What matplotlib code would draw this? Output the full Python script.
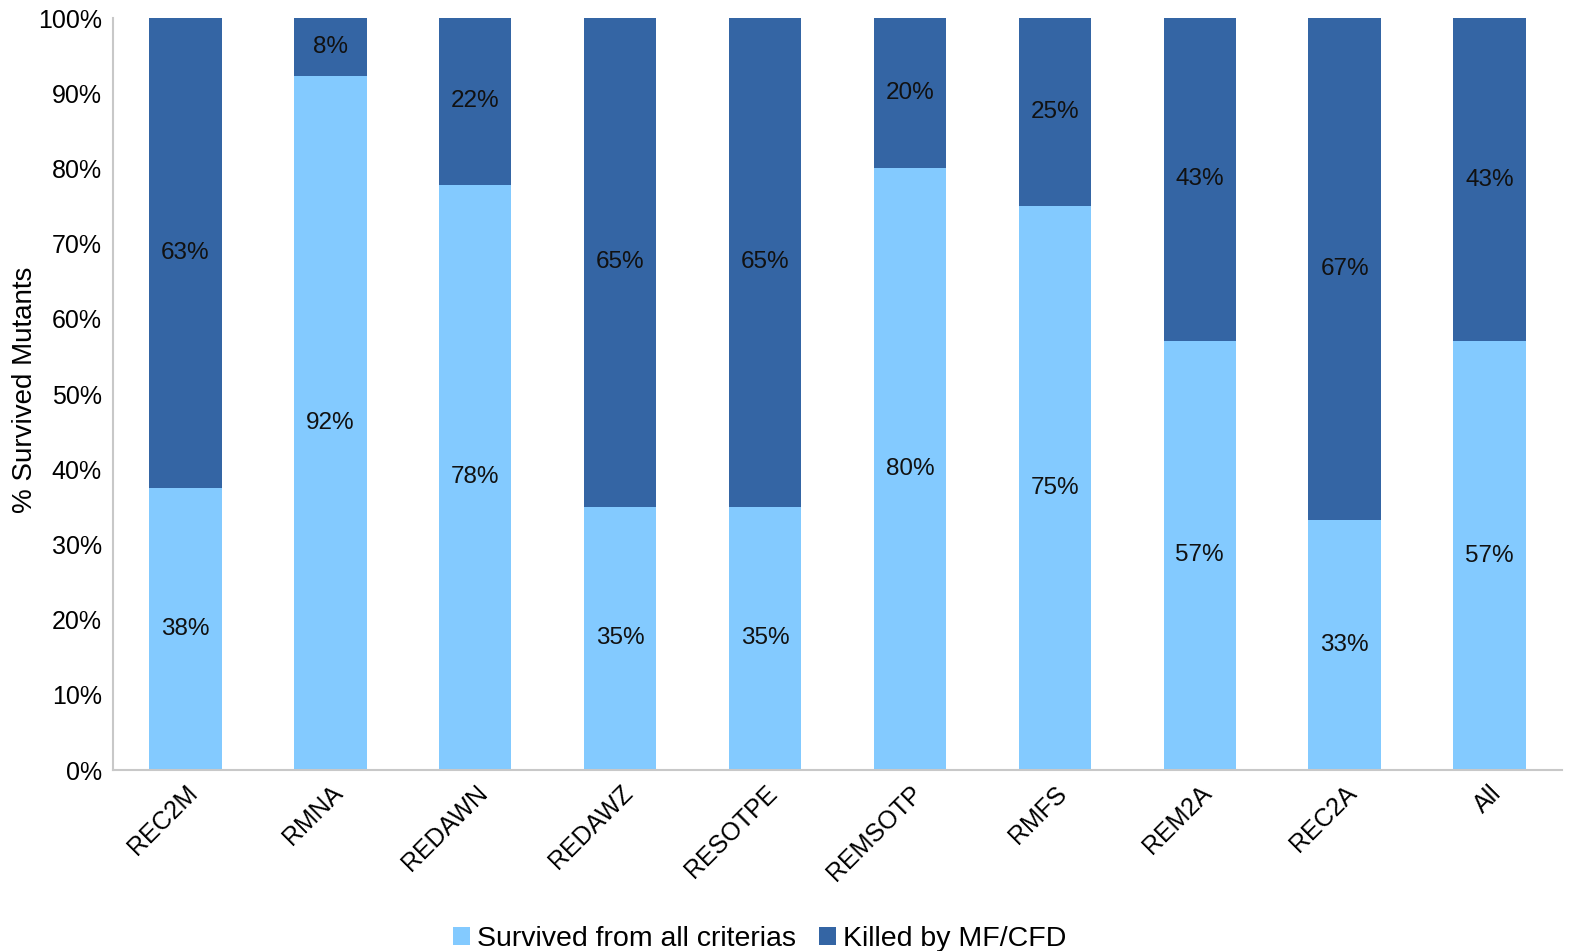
import matplotlib
matplotlib.use("Agg")
import matplotlib.pyplot as plt
import numpy as np

plt.rcParams["font.family"] = ["Liberation Sans", "DejaVu Sans"]

categories = ["REC2M", "RMNA", "REDAWN", "REDAWZ", "RESOTPE",
              "REMSOTP", "RMFS", "REM2A", "REC2A", "All"]
survived = [37.5, 92.3, 77.8, 35.0, 35.0, 80.0, 75.0, 57.1, 33.3, 57.0]
killed = [100 - s for s in survived]

light = "#83CAFF"
dark = "#3465A4"


def pct(v):
    # round half up, like a spreadsheet does
    return f"{int(v + 0.5)}%"


fig = plt.figure(figsize=(15.73, 9.51), dpi=100)
ax = fig.add_axes([113 / 1573, 1 - 770 / 951, (1562 - 113) / 1573, (770 - 18) / 951])

x = np.arange(len(categories))
b1 = ax.bar(x, survived, width=0.5, color=light, label="Survived from all criterias")
b2 = ax.bar(x, killed, width=0.5, bottom=survived, color=dark, label="Killed by MF/CFD")

for xi, s, k in zip(x, survived, killed):
    ax.text(xi, s / 2, pct(s), ha="center", va="center", fontsize=17.5, color="#111111")
    ax.text(xi, s + k / 2, pct(k), ha="center", va="center", fontsize=17.5, color="#111111")

ax.set_xlim(-0.5, len(categories) - 0.5)
ax.set_ylim(0, 100)
ax.set_yticks(np.arange(0, 101, 10))
ax.set_yticklabels([f"{v}%" for v in range(0, 101, 10)], fontsize=18)
ax.set_xticks(x)
ax.set_xticklabels(categories, rotation=45, ha="right", rotation_mode="anchor", fontsize=18)
ax.tick_params(length=0, pad=8)
ax.set_ylabel("% Survived Mutants", fontsize=20)
ax.yaxis.set_label_coords(-0.052, 0.505)

for side in ["top", "right"]:
    ax.spines[side].set_visible(False)
for side in ["left", "bottom"]:
    ax.spines[side].set_color("#c8c8c8")
    ax.spines[side].set_linewidth(1.5)

fig.legend(handles=[b1, b2], loc="lower center", bbox_to_anchor=(0.483, -0.028), ncol=2,
           frameon=False, fontsize=20.5, handlelength=0.6, handleheight=0.6,
           handletextpad=0.25, columnspacing=0.8)

fig.savefig("out.png", dpi=100)
